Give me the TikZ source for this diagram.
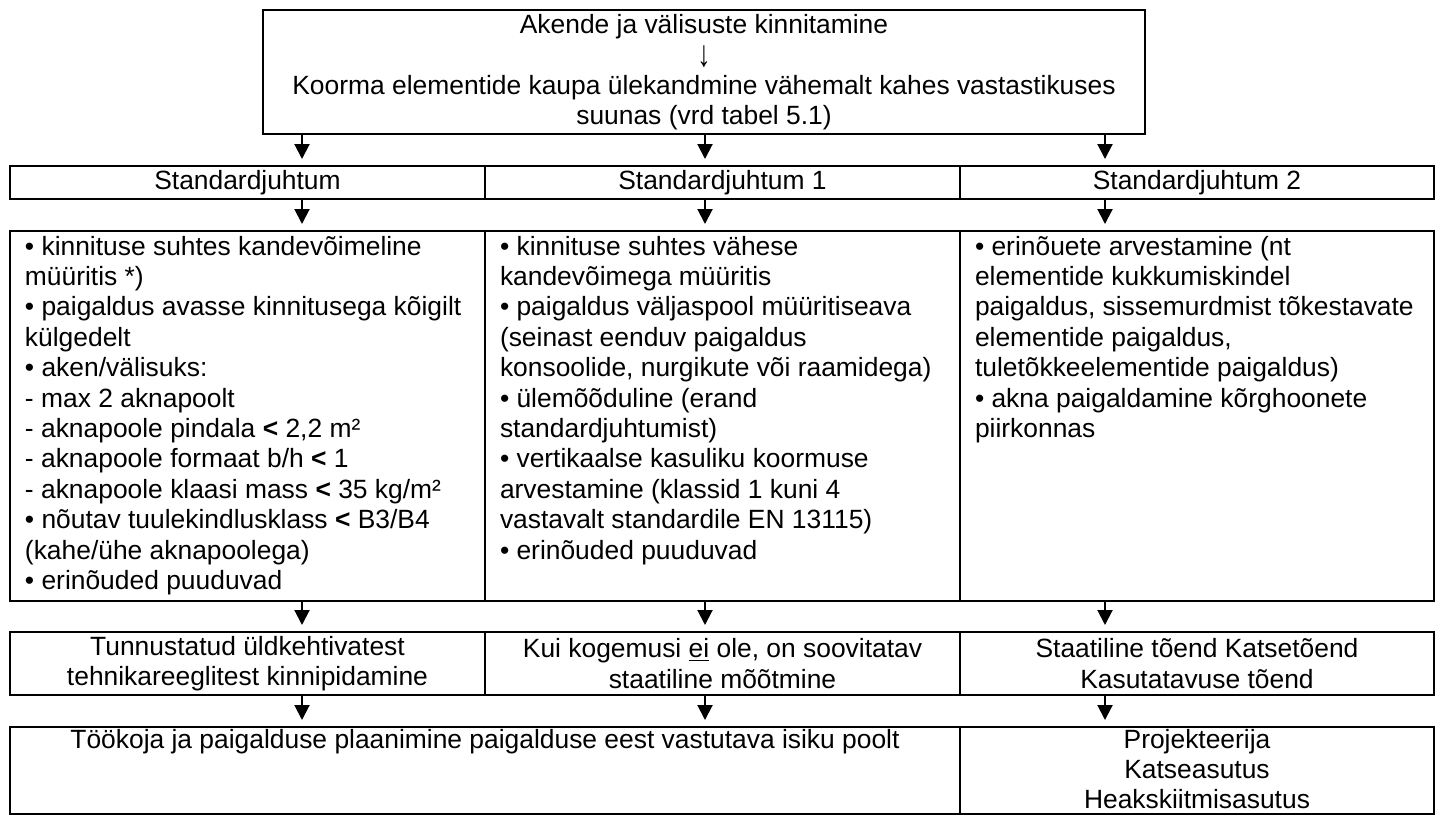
\documentclass[tikz,border=0pt]{standalone}
\usepackage{fontspec}
\setmainfont{Liberation Sans}
\usetikzlibrary{arrows.meta}

% text of a cell, set from the top of a fixed-height box
\newcommand\celltext[3]{\parbox[c][#1][t]{#2}{\raggedright\leftskip=7.5pt\relax\rule{0pt}{12pt}#3}}
\newcommand\lessthan{\textbf{<}}
\newcommand\downto{\raisebox{-1.5pt}{\scalebox{1}[1.4]{↓}}}

\begin{document}
\begin{tikzpicture}[x=0.5pt, y=-0.5pt,
    font=\fontsize{13.2}{15.2}\selectfont,
    box/.style={draw, line width=1pt, inner sep=0pt},
    case/.style={box, minimum width=237.5pt, minimum height=16.5pt},
    note/.style={box, minimum width=237.5pt, minimum height=31.5pt, align=center},
    flow/.style={line width=1pt, -{Triangle[length=7.5pt, width=7.5pt]}, shorten >=3pt}]
    \useasboundingbox (0,0) rectangle (1440,816);

    % columns of the arrows
    \coordinate (a1) at (302,0);
    \coordinate (a2) at (705,0);
    \coordinate (a3) at (1105,0);

    % head
    \node[box, minimum width=441pt, minimum height=62pt, align=center] (top) at (704,72)
        {Akende ja välisuste kinnitamine\\ \downto\\
         Koorma elementide kaupa ülekandmine vähemalt kahes vastastikuses\\
         suunas (vrd tabel 5.1)};

    % the three cases
    \node[case] (case0) at (247.5,182.5) {Standardjuhtum};
    \node[case] (case1) at (722.5,182.5) {Standardjuhtum 1};
    \node[case, minimum width=237pt] (case2) at (1197,182.5) {Standardjuhtum 2};

    % conditions
    \node[box] (req0) at (247.5,416) {\celltext{185pt}{237.5pt}{%
        • kinnituse suhtes kandevõimeline\\ müüritis *)\\
        • paigaldus avasse kinnitusega kõigilt\\ külgedelt\\
        • aken/välisuks:\\ - max 2 aknapoolt\\
        - aknapoole pindala \lessthan{} 2,2 m²\\
        - aknapoole formaat b/h \lessthan{} 1\\
        - aknapoole klaasi mass \lessthan{} 35 kg/m²\\
        • nõutav tuulekindlusklass \lessthan{} B3/B4\\ (kahe/ühe aknapoolega)\\
        • erinõuded puuduvad}};
    \node[box] (req1) at (722.5,416) {\celltext{185pt}{237.5pt}{%
        • kinnituse suhtes vähese\\ kandevõimega müüritis\\
        • paigaldus väljaspool müüritiseava\\ (seinast eenduv paigaldus\\
        konsoolide, nurgikute või raamidega)\\
        • ülemõõduline (erand\\ standardjuhtumist)\\
        • vertikaalse kasuliku koormuse\\ arvestamine (klassid 1 kuni 4\\
        vastavalt standardile EN 13115)\\
        • erinõuded puuduvad}};
    \node[box] (req2) at (1197,416) {\celltext{185pt}{237pt}{%
        • erinõuete arvestamine (nt\\ elementide kukkumiskindel\\
        paigaldus, sissemurdmist tõkestavate\\ elementide paigaldus,\\
        tuletõkkeelementide paigaldus)\\
        • akna paigaldamine kõrghoonete\\ piirkonnas}};

    % proof
    \node[note] (note0) at (247.5,663.5) {Tunnustatud üldkehtivatest\\ tehnikareeglitest kinnipidamine};
    \node[note] (note1) at (722.5,663.5) {Kui kogemusi \underline{ei} ole, on soovitatav\\ staatiline mõõtmine};
    \node[note, minimum width=237pt] (note2) at (1197,663.5) {Staatiline tõend Katsetõend\\ Kasutatavuse tõend};

    % planning
    \node[box] (plan) at (485,770.5) {\parbox[c][43.5pt][t]{475pt}{\centering\rule{0pt}{10.5pt}%
        Töökoja ja paigalduse plaanimine paigalduse eest vastutava isiku poolt}};
    \node[box] (who) at (1197,770.5) {\parbox[c][43.5pt][t]{237pt}{\centering\rule{0pt}{10.5pt}%
        Projekteerija\\ Katseasutus\\ Heakskiitmisasutus}};

    % arrows
    \foreach \c in {a1,a2,a3}
        \draw[flow] (top.south -| \c) -- (case0.north -| \c);
    \foreach \i/\c in {0/a1,1/a2,2/a3} {
        \draw[flow] (case\i.south -| \c) -- (req\i.north -| \c);
        \draw[flow] (req\i.south -| \c) -- (note\i.north -| \c);
    }
    \draw[flow] (note0.south -| a1) -- (plan.north -| a1);
    \draw[flow] (note1.south -| a2) -- (plan.north -| a2);
    \draw[flow] (note2.south -| a3) -- (who.north -| a3);
\end{tikzpicture}
\end{document}
